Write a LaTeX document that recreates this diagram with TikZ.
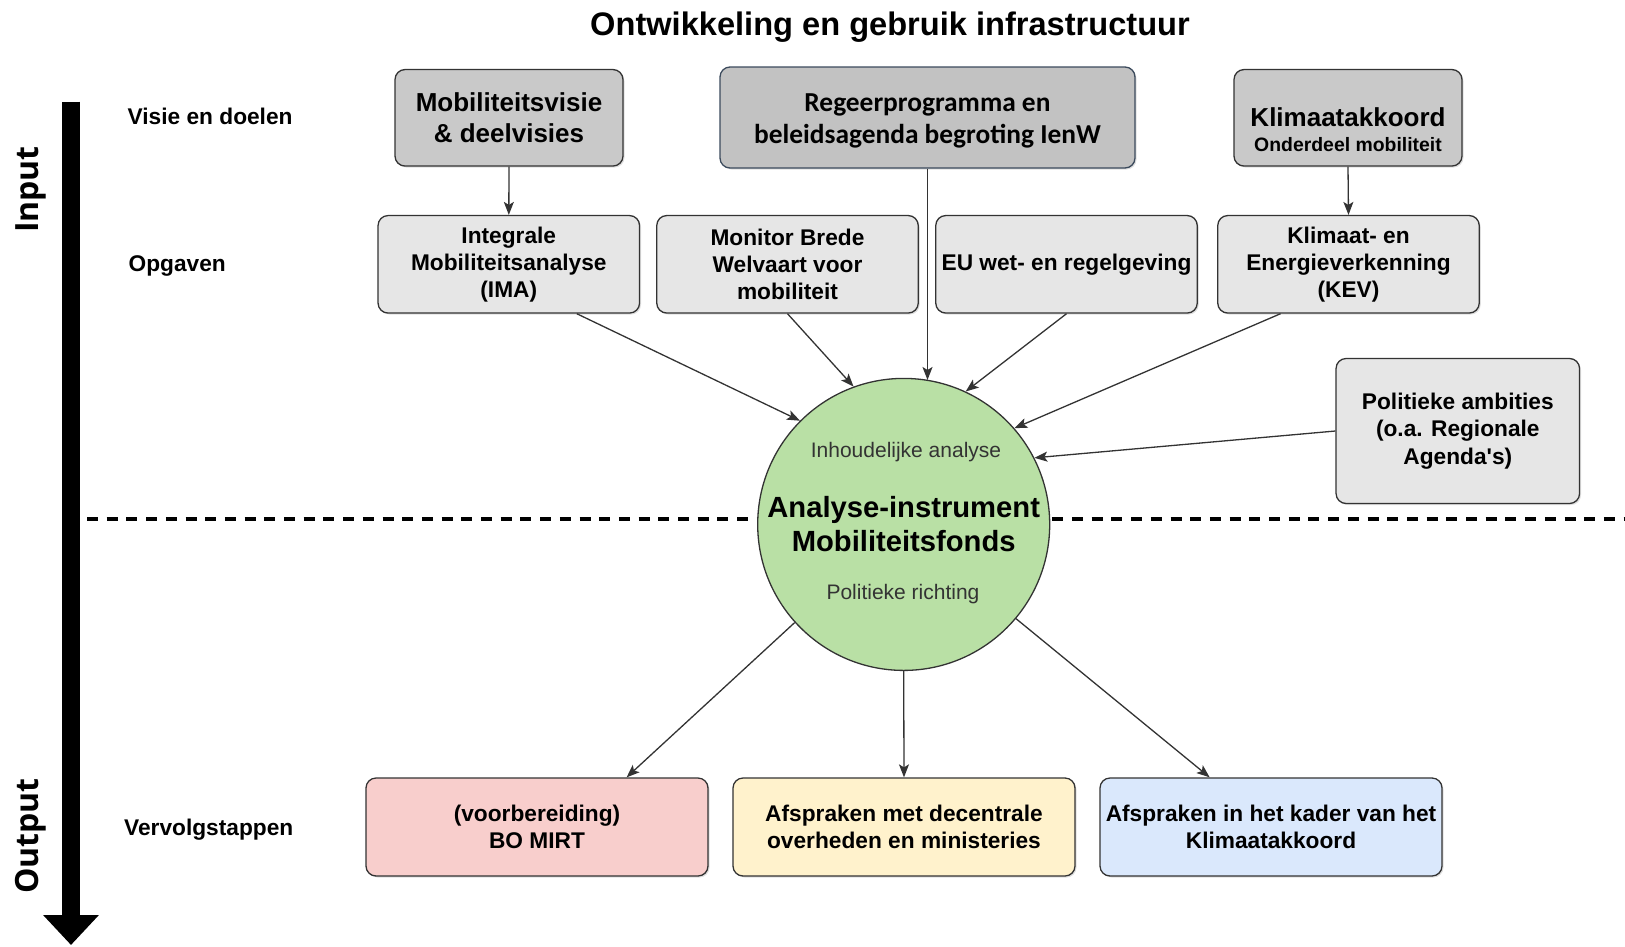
\documentclass[tikz,border=0pt]{standalone}
\usepackage{fontspec}
\setmainfont{Liberation Sans}
\newfontfamily\apos{Liberation Sans}
\newfontfamily\carl{Carlito}
\newfontfamily\osans{Open Sans}
\usetikzlibrary{arrows.meta,shadows,calc}
\definecolor{linec}{HTML}{333333}
\definecolor{topfill}{HTML}{C9C9C9}
\definecolor{rgfill}{HTML}{C2C2C2}
\definecolor{rgline}{HTML}{3B4A5C}
\definecolor{midfill}{HTML}{E6E6E6}
\definecolor{circfill}{HTML}{B9E0A5}
\definecolor{redfill}{HTML}{F8CECC}
\definecolor{yelfill}{HTML}{FFF2CC}
\definecolor{bluefill}{HTML}{DAE8FC}
\begin{document}
\begin{tikzpicture}[x=1pt,y=-1pt,
  boxbase/.style={draw=linec, line width=1.3pt, rounded corners=10pt, inner sep=0pt, align=center,
    drop shadow={shadow xshift=1.5pt, shadow yshift=-1.5pt, opacity=0.25}},
  topbox/.style={boxbase, fill=topfill, minimum width=228pt, minimum height=96.5pt,
    font=\bfseries\fontsize{26}{31}\selectfont},
  midbox/.style={boxbase, fill=midfill, minimum width=261.5pt, minimum height=97.5pt,
    font=\bfseries\fontsize{22.7}{27}\selectfont},
  botbox/.style={boxbase, minimum width=342pt, minimum height=98pt,
    font=\bfseries\fontsize{22.7}{27}\selectfont},
  rowlabel/.style={anchor=west, inner sep=0pt, font=\bfseries\fontsize{22.7}{27}\selectfont},
  side/.style={rotate=90, inner sep=0pt, font=\osans\bfseries\fontsize{32}{36}\selectfont},
  conn/.style={draw=linec, line width=1.3pt, -{Stealth[length=13pt,width=10pt,inset=3pt]}},
  small/.style={inner sep=0pt, text=linec, font=\fontsize{21}{25}\selectfont}
]
\useasboundingbox (0,0) rectangle (1625,946);

% title
\node[font=\bfseries\fontsize{32.6}{36}\selectfont, inner sep=0pt] (title) at (890,27) {Ontwikkeling en gebruik infrastructuur};

% left axis arrow
\coordinate (axtop) at (71,101.5);
\coordinate (axbot) at (71,945);
\draw[line width=18pt, -{Triangle[length=30pt,width=54pt]}] (axtop) -- (axbot);
\node[side] (inp) at (31,189.5) {Input};
\node[side] (outp) at (31,836) {Output};

% dashed divider
\coordinate (dl) at (87,519);
\coordinate (dr) at (1625,519);
\draw[line width=3.5pt, dash pattern=on 11pt off 8.7pt] (dl) -- (dr);

% row labels
\node[rowlabel] (l1) at (127.5,116) {Visie en doelen};
\node[rowlabel] (l2) at (128.5,266) {Opgaven};
\node[rowlabel] (l3) at (124,830) {Vervolgstappen};

% top row
\node[topbox] (mv) at (509,117.8) {Mobiliteitsvisie\\\& deelvisies};
\node[topbox, fill=rgfill, draw=rgline, minimum width=415pt, minimum height=101pt] (rg) at (927.5,117.5) {};
\node[inner sep=0pt, align=center, font=\carl\bfseries\fontsize{27.4}{32}\selectfont] (rgt) at (927.5,120.5)
      {Regeerprogramma en\\beleidsagenda begroting IenW};
\node[topbox] (ka) at (1348,117.8) {};
\node[inner sep=0pt, anchor=base, font=\bfseries\fontsize{26}{31}\selectfont] (ka1) at (1348,126.5) {Klimaatakkoord};
\node[inner sep=0pt, anchor=base, font=\bfseries\fontsize{19.4}{23}\selectfont] (ka2) at (1348,151) {Onderdeel mobiliteit};

% second row
\node[midbox] (ima) at (508.8,264.3) {Integrale\\Mobiliteitsanalyse\\(IMA)};
\node[midbox] (mon) at (787.5,264.3) {Monitor Brede\\Welvaart voor\\mobiliteit};
\node[midbox] (eu) at (1066.5,264.3) {EU wet- en regelgeving};
\node[midbox] (kev) at (1348.5,264.3) {Klimaat- en\\Energieverkenning\\(KEV)};

% political ambitions
\node[midbox, minimum width=243.5pt, minimum height=145pt, font=\bfseries\fontsize{22.7}{27.5}\selectfont] (pa) at (1457.8,431)
  {Politieke ambities\\(o.a. Regionale\\Agenda{\apos\bfseries'}s)};

% central circle
\node[circle, draw=linec, line width=1.3pt, fill=circfill, minimum size=292pt, inner sep=0pt, align=center,
      font=\bfseries\fontsize{29.2}{34}\selectfont] (circ) at (903.7,524.4)
      {Analyse-instrument\\Mobiliteitsfonds};
\node[small] (ia) at (906,452) {Inhoudelijke analyse};
\node[small] (pr) at (903,594) {Politieke richting};

% bottom row
\node[botbox, fill=redfill] (bo) at (537,827) {(voorbereiding)\\BO MIRT};
\node[botbox, fill=yelfill] (af) at (904,827) {Afspraken met decentrale\\overheden en ministeries};
\node[botbox, fill=bluefill] (kl) at (1271,827) {Afspraken in het kader van het\\Klimaatakkoord};

% connectors
\draw[conn] (mv.south) -- (ima.north);
\draw[conn] (ka.south) -- (kev.north);
\draw[conn] (rg.south) -- (rg.south |- circ.80.6);
\draw[conn] (ima.-36.3) -- (circ.135);
\draw[conn] (mon.south) -- (circ.110);
\draw[conn] (eu.south) -- (circ.65);
\draw[conn] (kev.216.6) -- (circ.41);
\draw[conn] (pa.west) -- (circ.27.5);
\draw[conn] (circ.222) -- (bo.29.4);
\draw[conn] (circ.south) -- (af.north);
\draw[conn] (circ.-40.2) -- (kl.141.5);
\end{tikzpicture}
\end{document}
